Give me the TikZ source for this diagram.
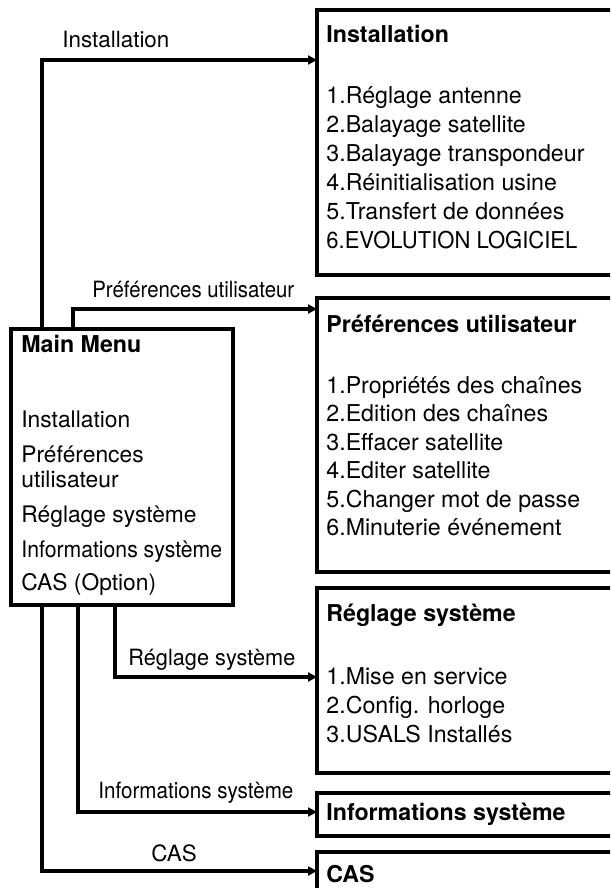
\documentclass[tikz,border=0pt]{standalone}
\usepackage{fontspec}
\setmainfont{TeX Gyre Heros}
\usetikzlibrary{arrows.meta}
\newcommand{\hsq}[2]{\scalebox{#1}[1]{#2}}
\begin{document}
\begin{tikzpicture}[x=0.5pt,y=-0.5pt,
  box/.style={draw, line width=1.6pt, inner sep=0pt, outer sep=0pt, anchor=north west},
  txt/.style={font=\fontsize{11.6}{14}\selectfont, anchor=base west, inner sep=0pt},
  mtxt/.style={font=\fontsize{11.4}{14}\selectfont, anchor=base west, inner sep=0pt},
  ttl/.style={font=\fontsize{11.6}{14}\selectfont\bfseries, anchor=base west, inner sep=0pt},
  lbl/.style={font=\fontsize{11.2}{13}\selectfont, anchor=base west, inner sep=0pt},
  conn/.style={line width=1.6pt, -{Triangle[length=4.5pt,width=4.5pt]}}]
\useasboundingbox (0,0) rectangle (610,888);
\clip (0,0) rectangle (610,888);

% boxes
\node[box, minimum width=162pt, minimum height=132.5pt] (inst) at (317,10) {};
\node[box, minimum width=162pt, minimum height=137pt] (pref) at (317,298) {};
\node[box, minimum width=162pt, minimum height=92.5pt] (regl) at (317,588) {};
\node[box, minimum width=162pt, minimum height=21.5pt] (info) at (317,793) {};
\node[box, minimum width=162pt, minimum height=40pt] (cas) at (317,852) {};
\node[box, minimum width=111pt, minimum height=138pt] (main) at (11,329) {};

% main menu text
\node[ttl] (mt) at (21,352) {Main Menu};
\node[mtxt] (m1) at (21,427) {Installation};
\node[mtxt] (m2) at (21,462) {Préférences};
\node[mtxt] (m2b) at (21,487) {utilisateur};
\node[mtxt] (m3) at (21,522) {Réglage système};
\node[mtxt] (m4) at (21,557) {\hsq{0.93}{Informations système}};
\node[mtxt] (m5) at (21,590) {CAS (Option)};

% installation box
\node[ttl] (it) at (326,43) {Installation};
\node[txt] (i1) at (326,104) {1.Réglage antenne};
\node[txt] (i2) at (326,132.8) {2.Balayage satellite};
\node[txt] (i3) at (326,161.6) {3.Balayage transpondeur};
\node[txt] (i4) at (326,190.4) {4.Réinitialisation usine};
\node[txt] (i5) at (326,219.2) {5.Transfert de données};
\node[txt] (i6) at (326,248) {\hsq{0.95}{6.EVOLUTION LOGICIEL}};

% preferences box
\node[ttl] (pt) at (326,332) {Préférences utilisateur};
\node[txt] (p1) at (326,393) {1.Propriétés des chaînes};
\node[txt] (p2) at (326,421.5) {2.Edition des chaînes};
\node[txt] (p3) at (326,450) {3.Effacer satellite};
\node[txt] (p4) at (326,478.5) {4.Editer satellite};
\node[txt] (p5) at (326,507) {5.Changer mot de passe};
\node[txt] (p6) at (326,535.5) {6.Minuterie événement};

% reglage box
\node[ttl] (rt) at (326,621) {Réglage système};
\node[txt] (r1) at (326,684) {1.Mise en service};
\node[txt] (r2) at (326,713) {2.Config. horloge};
\node[txt] (r3) at (326,742) {3.USALS Installés};

% info and cas
\node[ttl] (nt) at (326,820) {Informations système};
\node[ttl] (ct) at (326,882) {CAS};

% connector coordinates
\coordinate (p1c) at (42,60);
\coordinate (p2c) at (73,309);
\coordinate (p3c) at (115,677);
\coordinate (p4c) at (78,812);
\coordinate (p5c) at (42,871);

\draw[conn] (main.north -| p1c) |- (inst.west |- p1c);
\draw[conn] (main.north -| p2c) |- (pref.west |- p2c);
\draw[conn] (main.south -| p3c) |- (regl.west |- p3c);
\draw[conn] (main.south -| p4c) |- (info.west |- p4c);
\draw[conn] (main.south -| p5c) |- (cas.west |- p5c);

% connector labels
\node[lbl] (l1) at (62,48) {Installation};
\node[lbl] (l2) at (92,297) {\hsq{0.91}{Préférences utilisateur}};
\node[lbl] (l3) at (128,665) {\hsq{0.97}{Réglage système}};
\node[lbl] (l4) at (98,798) {\hsq{0.92}{Informations système}};
\node[lbl] (l5) at (151,861) {CAS};
\end{tikzpicture}
\end{document}
